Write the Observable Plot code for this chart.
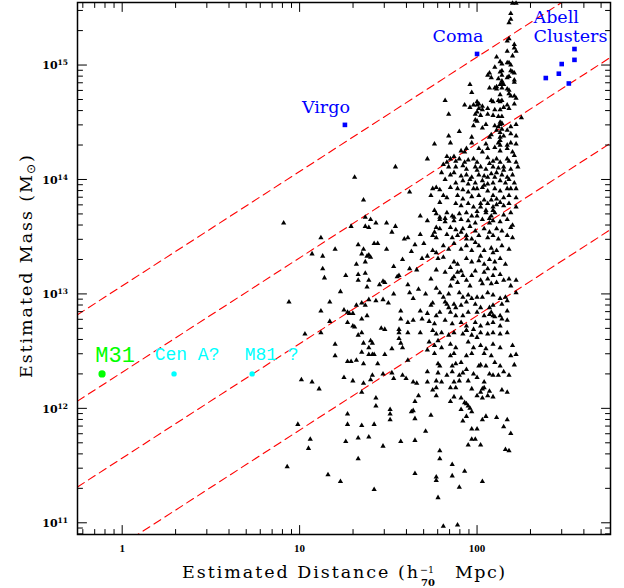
<!DOCTYPE html>
<html><head><meta charset="utf-8">
<script src="https://cdn.jsdelivr.net/npm/d3@7"></script>
<script src="https://cdn.jsdelivr.net/npm/@observablehq/plot@0.6"></script>
<style>body{margin:0;background:#fff}</style>
</head><body><div id="chart"></div>
<script>
// axes
const xDomain = [0.56, 565];
const yDomain = [7.9e10, 3.52e15];
const xTickLabels = [1, 10, 100];
const yTickExponents = [11, 12, 13, 14, 15];
// dashed guide lines M = k * D : log10(M) at D = 1 Mpc
const guideLogMassAt1Mpc = [13.07, 12.315, 11.565, 10.81];

// groups: [log10 distance (Mpc), log10 mass (Msun)]
const groupLogDM = [
[1.54,14.11],[1.31,14.02],[1.36,13.82],[0.91,13.62],[1.37,13.67],[1.40,13.65],[1.43,13.62],[1.49,13.62],[1.29,13.59],[1.37,13.59],[1.39,13.58],[1.54,13.59],[1.52,13.54],[1.12,13.49],[1.59,13.48],[1.42,13.44],[1.44,13.44],[1.33,13.43],[1.20,13.39],[1.36,13.39],[1.49,13.39],[1.07,13.35],[1.35,13.35],[1.13,13.33],[1.38,13.33],[1.39,13.34],[1.40,13.32],[1.58,13.30],[1.37,13.28],[1.32,13.26],[1.53,13.24],[1.13,13.22],[1.33,13.17],[1.37,13.18],[1.26,13.16],[1.56,13.16],[1.55,13.15],[1.14,13.14],[1.33,13.12],[1.39,13.12],[1.47,13.11],[1.48,13.10],[1.45,13.08],[1.38,13.06],[1.23,13.02],[1.53,13.00],[1.39,12.95],[1.47,12.95],[1.43,12.94],[0.94,12.93],[1.17,12.93],[1.35,12.92],[1.50,12.92],[1.32,12.90],[1.37,12.90],[1.25,12.86],[1.12,12.85],[1.27,12.84],[1.28,12.83],[1.30,12.83],[1.38,12.81],[1.57,12.85],[1.35,12.78],[1.17,12.76],[1.27,12.75],[1.30,12.72],[1.31,12.71],[1.46,12.70],[1.48,12.69],[1.56,12.69],[1.56,12.66],[1.03,12.65],[1.12,12.66],[1.35,12.66],[1.33,12.64],[1.56,12.61],
[1.20,12.56],[1.36,12.57],[1.40,12.59],[1.41,12.57],[1.39,12.53],[1.57,12.57],[1.58,12.53],[1.52,12.52],[1.35,12.49],[1.39,12.47],[1.41,12.47],[1.42,12.47],[1.48,12.47],[1.20,12.46],[1.27,12.41],[1.29,12.41],[1.32,12.42],[1.36,12.39],[1.44,12.39],[1.52,12.31],[1.47,12.30],[1.41,12.29],[1.58,12.29],[1.25,12.27],[1.53,12.26],[1.01,12.25],[1.40,12.25],[1.07,12.23],[1.30,12.24],[1.36,12.22],[1.11,12.17],[1.35,12.14],[1.43,12.09],[1.43,12.02],[1.51,11.99],[1.51,11.95],[1.51,11.90],[1.27,11.95],[0.99,11.86],[1.27,11.86],[1.35,11.85],[1.42,11.86],[1.06,11.73],[1.26,11.71],[1.33,11.74],[1.39,11.75],[1.57,11.71],[1.47,11.67],[1.05,11.65],[1.33,11.56],[0.93,11.49],[1.16,11.42],[1.23,11.36],[1.42,11.29],
[2.20,15.54],[2.22,15.54],[2.19,15.45],[2.19,15.40],[2.18,15.37],[2.17,15.21],[2.18,15.23],[2.21,15.18],[2.21,15.15],[2.17,15.12],[2.22,15.12],[2.11,15.07],[2.20,15.08],[2.13,15.03],[2.14,15.01],[2.17,15.02],[2.18,15.02],[2.19,15.00],[2.10,14.98],[2.07,14.93],[2.06,14.91],[2.13,14.94],[2.14,14.95],[2.19,14.95],[2.20,14.94],[2.21,14.93],[2.08,14.89],[2.12,14.88],[2.14,14.91],[2.17,14.89],[2.18,14.90],[1.96,14.83],[2.14,14.86],[2.14,14.84],[2.13,14.83],[2.15,14.83],[2.21,14.87],[2.21,14.85],[2.07,14.80],[2.10,14.80],[2.11,14.81],[2.11,14.79],[2.14,14.80],[2.17,14.79],[2.18,14.78],[1.97,14.76],[2.13,14.74],[2.18,14.75],[2.19,14.73],[2.21,14.73],[2.22,14.71],[1.82,14.69],[2.00,14.68],[2.01,14.66],[2.00,14.65],[2.08,14.69],[2.09,14.68],[2.12,14.69],[2.13,14.68],[2.14,14.69],[1.93,14.65],[1.96,14.63],[1.98,14.65],[2.03,14.64],[2.17,14.65],[2.15,14.63],[2.21,14.66],[2.01,14.62],[2.03,14.61],[2.00,14.59],[2.06,14.62],[2.10,14.61],[2.13,14.61],[2.18,14.62],[1.84,14.57],[1.99,14.57],[2.02,14.56],[2.06,14.57],[2.09,14.56],[2.12,14.55],[2.14,14.55],[2.25,14.54],[1.99,14.52],[2.00,14.51],[2.13,14.50],[2.14,14.49],[1.98,14.47],[2.05,14.48],[2.10,14.47],[2.12,14.46],[2.13,14.48],[2.19,14.46],[2.22,14.48],[1.90,14.42],[2.03,14.45],[2.11,14.43],[2.13,14.41],[2.14,14.44],[2.17,14.43],[1.84,14.38],[1.97,14.37],[2.07,14.37],[2.08,14.39],[2.13,14.37],[2.15,14.38],[2.19,14.40],[2.22,14.38],
[1.76,14.31],[1.85,14.32],[1.97,14.32],[2.05,14.31],[2.12,14.32],[2.13,14.34],[2.19,14.32],[2.22,14.31],
[1.91,14.25],[1.93,14.24],[1.94,14.27],[2.01,14.27],[2.03,14.24],[2.06,14.27],[2.13,14.25],[2.17,14.27],[2.20,14.24],
[1.72,14.18],[1.83,14.20],[1.85,14.18],[1.87,14.20],[1.90,14.18],[1.95,14.17],[1.98,14.18],[2.00,14.15],[2.06,14.19],[2.09,14.16],[2.11,14.18],[2.13,14.15],[2.17,14.18],[2.18,14.16],[2.22,14.15],
[1.81,14.13],[1.84,14.11],[1.88,14.11],[1.92,14.12],[1.94,14.09],[1.99,14.11],[2.02,14.11],[2.05,14.09],[2.09,14.11],[2.12,14.10],[2.15,14.11],[2.19,14.09],[2.23,14.11],
[1.80,14.06],[1.85,14.04],[1.87,14.06],[1.91,14.03],[1.94,14.04],[1.97,14.02],[2.01,14.04],[2.04,14.03],[2.08,14.05],[2.10,14.02],[2.14,14.04],[2.17,14.02],[2.20,14.04],
[1.82,14.00],[1.88,13.97],[1.92,13.99],[1.95,13.96],[1.99,13.97],[2.03,13.99],[2.06,13.96],[2.09,13.97],[2.13,13.99],[2.16,13.97],[2.21,13.97],
[1.62,13.89],[1.75,13.92],[1.77,13.93],[1.79,13.91],[1.85,13.93],[1.89,13.92],[1.92,13.91],[1.95,13.89],[1.98,13.92],[2.03,13.93],[2.06,13.90],[2.10,13.92],[2.13,13.90],[2.17,13.92],[2.22,13.92],
[1.74,13.86],[1.81,13.86],[1.83,13.84],[1.89,13.86],[1.92,13.83],[1.97,13.85],[2.01,13.86],[2.04,13.82],[2.09,13.86],[2.11,13.83],[2.15,13.84],[2.18,13.86],[2.22,13.84],
[1.79,13.80],[1.88,13.79],[1.91,13.77],[1.95,13.79],[1.98,13.76],[2.02,13.79],[2.06,13.79],[2.09,13.76],[2.11,13.78],[2.15,13.77],[2.18,13.79],
[1.68,13.68],[1.76,13.73],[1.77,13.70],[1.83,13.71],[1.86,13.68],[1.90,13.70],[1.94,13.71],[1.97,13.68],[2.00,13.72],[2.05,13.71],[2.08,13.68],[2.10,13.71],[2.15,13.69],[2.19,13.71],
[1.72,13.64],[1.79,13.65],[1.82,13.63],[1.87,13.64],[1.91,13.65],[1.95,13.64],[1.99,13.62],[2.03,13.65],[2.07,13.62],[2.09,13.64],[2.13,13.63],[2.17,13.65],
[1.77,13.58],[1.79,13.57],[1.85,13.58],[1.88,13.56],[1.92,13.57],[1.96,13.59],[1.99,13.55],[2.04,13.57],[2.07,13.54],[2.11,13.57],[2.14,13.55],[2.19,13.58],
[1.61,13.49],[1.68,13.52],[1.75,13.51],[1.77,13.49],[1.83,13.52],[1.86,13.49],[1.89,13.51],[1.94,13.51],[1.97,13.48],[2.01,13.51],[2.06,13.49],[2.09,13.51],[2.12,13.48],[2.17,13.51],[2.20,13.49],
[1.63,13.37],[1.65,13.43],[1.70,13.44],[1.75,13.38],[1.77,13.36],[1.81,13.42],[1.84,13.39],[1.87,13.44],[1.91,13.39],[1.94,13.42],[1.97,13.38],[2.01,13.42],[2.04,13.38],[2.08,13.40],[2.11,13.38],[2.14,13.42],[2.18,13.39],
[1.69,13.31],[1.72,13.33],[1.78,13.31],[1.81,13.32],[1.87,13.28],[1.89,13.26],[1.94,13.31],[1.97,13.28],[2.01,13.29],[2.04,13.26],[2.07,13.30],[2.10,13.28],[2.13,13.31],[2.16,13.26],
[2.06,13.22],
[1.61,13.08],[1.62,13.22],[1.66,13.21],[1.74,13.13],[1.77,13.21],[1.82,13.19],[1.85,13.23],[1.87,13.15],[1.89,13.10],[1.85,13.07],[1.91,13.20],[1.92,13.16],[1.94,13.12],[1.97,13.16],[1.99,13.20],[2.02,13.12],[2.04,13.19],[2.06,13.13],[2.09,13.16],[2.10,13.22],[2.13,13.17],[2.15,13.12],[2.18,13.13],[2.22,13.12],
[1.62,13.01],[1.67,13.04],[1.64,12.96],[1.71,13.00],[1.77,13.05],[1.79,13.01],[1.81,12.97],[1.84,13.00],[1.90,13.01],[1.92,12.97],[1.95,12.99],[1.97,12.96],[2.00,12.97],[2.03,12.97],[2.06,13.01],[2.09,12.99],[2.13,12.96],[2.16,12.97],[2.22,13.01],
[1.74,12.90],[1.75,12.92],[1.82,12.93],[1.84,12.88],[1.87,12.91],[1.91,12.90],[1.94,12.93],[1.99,12.91],[2.02,12.88],[2.07,12.88],[2.09,12.90],[2.14,12.91],[2.17,12.94],
[1.68,12.85],[1.72,12.83],[1.77,12.81],[1.79,12.84],[1.85,12.84],[1.88,12.81],[1.92,12.81],[1.95,12.84],[2.00,12.84],[2.04,12.81],[2.08,12.84],[2.10,12.80],[2.13,12.81],[2.17,12.85],
[1.57,12.78],[1.61,12.75],[1.64,12.77],[1.69,12.78],[1.73,12.76],[1.76,12.74],[1.82,12.77],[1.86,12.74],[1.91,12.75],[1.94,12.72],[1.99,12.75],[2.02,12.72],[2.06,12.74],[2.09,12.75],[2.13,12.72],[2.17,12.77],
[1.61,12.66],[1.75,12.68],[1.77,12.65],[1.80,12.66],[1.84,12.64],[1.87,12.66],[1.92,12.65],[1.94,12.68],[1.97,12.64],[2.02,12.66],[2.06,12.65],[2.09,12.66],[2.13,12.65],[2.17,12.66],
[1.73,12.58],[1.76,12.55],[1.78,12.59],[1.80,12.53],[1.85,12.56],[1.88,12.53],[1.95,12.58],[1.98,12.53],[2.02,12.55],[2.05,12.52],[2.09,12.56],[2.13,12.53],[2.20,12.55],
[1.72,12.51],[1.76,12.48],[1.85,12.46],[1.87,12.48],[1.94,12.46],[1.97,12.48],[2.04,12.48],[2.08,12.46],[2.19,12.46],[2.22,12.47],
[1.61,12.42],[1.78,12.39],[1.86,12.37],[1.88,12.39],[1.91,12.40],[1.94,12.34],[2.02,12.38],[2.05,12.37],[2.10,12.40],[2.13,12.37],[2.21,12.38],
[1.72,12.32],[1.78,12.31],[1.83,12.29],[1.86,12.32],[1.90,12.29],[1.92,12.31],[1.98,12.30],[2.00,12.27],[2.07,12.30],[2.09,12.29],[2.12,12.29],[2.15,12.32],[2.18,12.29],
[1.60,12.26],[1.64,12.23],[1.66,12.22],[1.72,12.23],[1.77,12.24],[1.80,12.23],[1.87,12.23],[1.90,12.24],[1.95,12.24],[2.04,12.23],
[1.75,12.16],[1.77,12.18],[1.85,12.18],[1.88,12.18],[1.97,12.17],[2.02,12.14],[2.04,12.18],[2.07,12.15],[2.14,12.16],[2.17,12.14],
[1.67,12.11],[1.87,12.10],[1.91,12.09],[2.00,12.11],[2.03,12.09],[2.09,12.10],
[1.77,12.11],[1.85,12.06],[1.93,12.05],[1.94,12.04],[1.95,12.02],[1.96,12.00],[1.97,11.97],[1.91,11.99],[2.06,12.11],[1.65,12.06],[1.63,11.97],[1.64,11.98],[1.65,11.91],[1.74,11.94],[1.94,11.93],[1.92,11.89],[2.03,11.90],[2.05,11.93],[2.11,11.92],[2.17,11.90],[2.15,11.84],[1.97,11.82],[2.00,11.82],[1.71,11.80],[2.19,11.78],[1.65,11.72],[1.97,11.73],[1.99,11.73],[1.95,11.68],[2.02,11.68],[2.16,11.64],[2.18,11.63],[1.79,11.63],[1.79,11.56],[1.86,11.51],[1.93,11.45],[1.65,11.43],[1.77,11.40],[1.77,11.37],[1.86,11.41],[2.03,11.36],[1.90,11.31],[1.78,11.22],[1.81,10.97],[1.89,10.98],
[2.13,14.30],[2.17,14.30],[2.10,14.28],[1.88,14.16],[1.83,14.15],[2.07,14.14],[2.11,14.06],[2.15,14.08],[2.18,14.00],[2.06,14.02],[2.00,14.08],[1.96,14.00],[2.04,13.95],[2.00,13.92],[2.08,13.82],[2.13,13.80],[2.02,13.76],[2.05,13.73],[2.09,13.73],[2.00,13.68],[2.07,13.66],[1.79,13.67],[1.82,13.66],[1.87,13.67],[1.94,13.48],[1.99,13.45],[2.02,13.33],[2.09,13.36],[2.20,13.60],[1.76,13.54],[1.91,13.54],[2.22,13.76],[2.19,13.92],[1.93,14.15],[2.21,14.21],
[1.86,13.13],[1.89,13.19],[2.03,13.09],[2.08,13.09],[2.11,13.10],[1.83,12.91],[1.88,12.88],[2.09,12.81],[2.14,12.78],[2.07,12.82],[1.94,12.68],[1.98,12.69],[2.00,12.62],[2.03,12.17],[2.01,12.37],[1.79,12.37],[1.68,12.66],[2.19,13.07],[1.96,13.07]
];

// named nearby systems
const localNames = ["M31", "Cen A?", "M81 ?"];
const localDist = [0.77, 1.96, 5.4];
const localMass = [2.0e12, 2.0e12, 2.0e12];
// clusters
const clusterNames = ["Virgo", "Coma"];
const clusterDist = [18, 100];
const clusterMass = [3.0e14, 1.25e15];
const abellDist = [354, 354, 300, 289, 244, 329];
const abellMass = [1.38e15, 1.11e15, 1.02e15, 8.4e14, 7.7e14, 6.9e14];

const local = localNames.map((name, i) => ({name, dist: localDist[i], mass: localMass[i]}));
const clusters = clusterNames.map((name, i) => ({name, dist: clusterDist[i], mass: clusterMass[i]}));
const abell = abellDist.map((d, i) => ({dist: d, mass: abellMass[i]}));
const guides = guideLogMassAt1Mpc.flatMap((b, k) => xDomain.map(d => ({k, d, m: 10 ** b * d})));

// ticks
const minorOf = (lo, hi) => d3.range(lo, hi + 1).flatMap(e => d3.range(2, 10).map(k => k * 10 ** e));
const xMajor = xTickLabels;
const xMinor = minorOf(-1, 2).filter(v => v > xDomain[0] && v < xDomain[1]);
const yMajor = yTickExponents.map(e => 10 ** e);
const yMinor = minorOf(10, 15).filter(v => v > yDomain[0] && v < yDomain[1]);

const tickShape = {draw(ctx, l) { ctx.moveTo(0, 0); ctx.lineTo(0, -l); }};
const tk = (data, o) => Plot.vector(data, {shape: tickShape, anchor: "start", stroke: "black", strokeWidth: 1, ...o});

const plot = Plot.plot({
  width: 624, height: 588,
  marginLeft: 77, marginRight: 14, marginTop: 2, marginBottom: 54,
  x: {type: "log", domain: xDomain, axis: null},
  y: {type: "log", domain: yDomain, axis: null},
  style: {background: "white", overflow: "visible"},
  marks: [
    Plot.line(guides, {x: "d", y: "m", z: "k", stroke: "#ff0000", strokeWidth: 1.1, strokeDasharray: "8,5", clip: true}),
    Plot.dot(groupLogDM, {x: d => 10 ** d[0], y: d => 10 ** d[1], symbol: "triangle", r: 1.95, fill: "black"}),
    Plot.dot(local.slice(0, 1), {x: "dist", y: "mass", r: 3.6, fill: "#00ff00"}),
    Plot.dot(local.slice(1), {x: "dist", y: "mass", r: 2.7, fill: "#00ffff"}),
    Plot.dot(clusters, {x: "dist", y: "mass", symbol: "square", r: 2.6, fill: "#0000ff"}),
    Plot.dot(abell, {x: "dist", y: "mass", symbol: "square", r: 2.6, fill: "#0000ff"}),
    Plot.text(local.slice(0, 1), {x: "dist", y: "mass", text: "name", dx: 13, dy: -12, lineAnchor: "bottom", fill: "#00ff00", fontFamily: "Liberation Mono", fontSize: 22}),
    Plot.text(local.slice(1, 2), {x: "dist", y: "mass", text: "name", dx: 13, dy: -14, lineAnchor: "bottom", fill: "#00ffff", fontFamily: "Liberation Mono", fontSize: 18}),
    Plot.text(local.slice(2, 3), {x: "dist", y: "mass", text: "name", dx: 19.5, dy: -14, lineAnchor: "bottom", fill: "#00ffff", fontFamily: "Liberation Mono", fontSize: 18}),
    Plot.text(clusters, {x: "dist", y: "mass", text: "name", dx: -19, dy: -12, lineAnchor: "bottom", fill: "#0000ff", fontFamily: "DejaVu Serif", fontSize: 17.5}),
    Plot.text(abell.slice(4, 5), {x: "dist", y: "mass", text: () => "Abell", dx: -12.3, dy: -54.6, textAnchor: "start", lineAnchor: "bottom", fill: "#0000ff", fontFamily: "DejaVu Serif", fontSize: 17.5}),
    Plot.text(abell.slice(4, 5), {x: "dist", y: "mass", text: () => "Clusters", dx: -12.3, dy: -35.6, textAnchor: "start", lineAnchor: "bottom", fill: "#0000ff", fontFamily: "DejaVu Serif", fontSize: 17.5}),
    Plot.frame({stroke: "black", strokeWidth: 1.5}),
    tk(xMajor, {x: d => d, frameAnchor: "bottom", length: 9, rotate: 0}),
    tk(xMinor, {x: d => d, frameAnchor: "bottom", length: 5, rotate: 0}),
    tk(xMajor, {x: d => d, frameAnchor: "top", length: 9, rotate: 180}),
    tk(xMinor, {x: d => d, frameAnchor: "top", length: 5, rotate: 180}),
    tk(yMajor, {y: d => d, frameAnchor: "left", length: 9, rotate: 90}),
    tk(yMinor, {y: d => d, frameAnchor: "left", length: 5, rotate: 90}),
    tk(yMajor, {y: d => d, frameAnchor: "right", length: 9, rotate: -90}),
    tk(yMinor, {y: d => d, frameAnchor: "right", length: 5, rotate: -90}),
    Plot.text(xTickLabels, {x: d => d, text: d => String(d), frameAnchor: "bottom", dy: 17, lineAnchor: "bottom", fontFamily: "Liberation Serif", fontWeight: "bold", fontSize: 11, fill: "black"})
  ]
});
document.getElementById("chart").append(plot);

// y tick labels with superscripts, and axis titles
const svg = d3.select(plot);
const sx = plot.scale("x"), sy = plot.scale("y");
const left = sx.apply(xDomain[0]);
yTickExponents.forEach(e => {
  const t = svg.append("text").attr("x", left - 9).attr("y", sy.apply(10 ** e) + 4.7)
    .attr("text-anchor", "end").attr("font-family", "DejaVu Serif").attr("font-weight", "bold")
    .attr("font-size", 11).attr("fill", "black");
  t.append("tspan").text("10");
  t.append("tspan").attr("font-size", 7.5).attr("dy", -4).text(String(e));
});

const font = "DejaVu Serif";
const bx = 578.3;
const txt = () => svg.append("text").attr("text-anchor", "start").attr("fill", "black").attr("font-family", font);
txt().attr("x", 182).attr("y", bx).attr("font-size", 17.5)
  .attr("textLength", 236).attr("lengthAdjust", "spacing").text("Estimated Distance (h");
txt().attr("x", 420).attr("y", bx - 5).attr("font-size", 9.5).text("\u22121");
txt().attr("x", 421).attr("y", bx + 7.4).attr("font-weight", "bold").attr("font-size", 10).text("70");
txt().attr("x", 455).attr("y", bx).attr("font-size", 17.5)
  .attr("textLength", 50).attr("lengthAdjust", "spacing").text("Mpc)");

txt().attr("transform", "translate(32,378) rotate(-90)").attr("font-size", 17.5)
  .attr("textLength", 203).attr("lengthAdjust", "spacing").text("Estimated Mass (M");
txt().attr("transform", "translate(35,174) rotate(-90)").attr("font-family", "DejaVu Sans").attr("font-size", 12).text("\u2299");
txt().attr("transform", "translate(32,162) rotate(-90)").attr("font-size", 17.5).text(")");
</script>
</body></html>
